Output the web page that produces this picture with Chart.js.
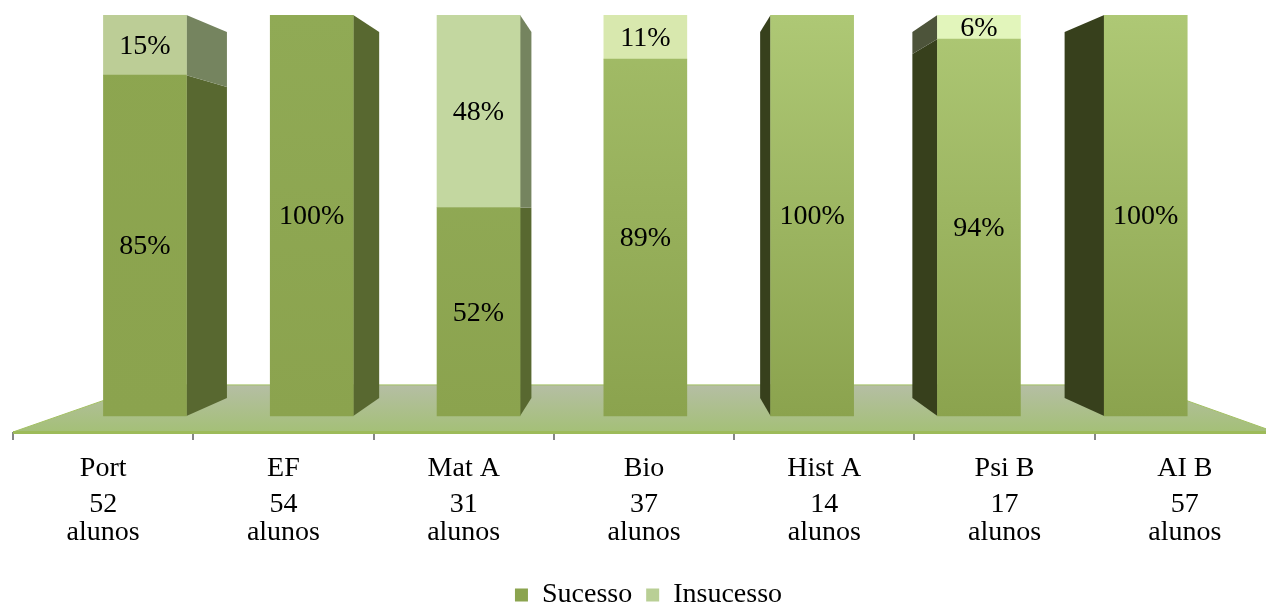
<!DOCTYPE html>
<html>
<head>
<meta charset="utf-8">
<title>Sucesso por disciplina</title>
<script src="https://cdn.jsdelivr.net/npm/chart.js@4"></script>
<style>
  html, body { margin: 0; padding: 0; background: #fff; overflow: hidden; }
  #wrap { width: 1297px; height: 603px; }
</style>
</head>
<body>
<div id="wrap"><canvas id="myChart" width="1297" height="603"></canvas></div>
<script>
const subjects = ["Port", "EF", "Mat A", "Bio", "Hist A", "Psi B", "AI B"];
const students = [["52", "alunos"], ["54", "alunos"], ["31", "alunos"], ["37", "alunos"], ["14", "alunos"], ["17", "alunos"], ["57", "alunos"]];
const sucesso = [85, 100, 52, 89, 100, 94, 100];
const insucesso = [15, 0, 48, 11, 0, 6, 0];

const FONT = "'Liberation Serif', serif";
const SIZE = 28;

// colour at the top of each column, all columns end in the same dark green
const sucessoTop = ["#8da650", "#90aa55", "#93ad59", "#a3bd68", "#aec875", "#aec875", "#aec875"];
const sucessoBottom = "#8ba34e";
const insucessoColor = ["#bccd96", "#bccd96", "#c3d7a0", "#d8e8ae", "#d8e8ae", "#e2f5bb", "#e2f5bb"];
const sideRight = "#586830";
const sideLeft = "#37401c";
const sideRightLight = "#75845f";
const sideLeftLight = "#4d543a";

// perspective of the fake 3d box
const BACK_SCALE = 0.9127;
const FLOOR_SCALE = 0.788;

function vanish(chart) {
  return {
    x: chart.scales.xBars.getPixelForValue(3.03),
    y: chart.scales.y.getPixelForValue(51.4),
  };
}

function sucessoFill(c) {
  const area = c.chart.chartArea;
  if (!area || c.dataIndex === undefined) return sucessoBottom;
  const y = c.chart.scales.y;
  const grad = c.chart.ctx.createLinearGradient(0, y.getPixelForValue(100), 0, y.getPixelForValue(0));
  grad.addColorStop(0, sucessoTop[c.dataIndex]);
  grad.addColorStop(1, sucessoBottom);
  return grad;
}

const box3d = {
  id: "box3d",
  beforeDatasetsDraw(chart) {
    const ctx = chart.ctx;
    const area = chart.chartArea;
    const v = vanish(chart);

    // floor
    const back = (p) => v.x + (p - v.x) * FLOOR_SCALE;
    const backY = v.y + (area.bottom - v.y) * FLOOR_SCALE;
    const grad = ctx.createLinearGradient(0, backY, 0, area.bottom);
    grad.addColorStop(0, "#b5bea4");
    grad.addColorStop(1, "#a4c077");
    ctx.save();
    ctx.beginPath();
    ctx.moveTo(area.left, area.bottom);
    ctx.lineTo(back(area.left), backY);
    ctx.lineTo(back(area.right), backY);
    ctx.lineTo(area.right, area.bottom);
    ctx.closePath();
    ctx.fillStyle = grad;
    ctx.fill();
    ctx.strokeStyle = "#a3c063";
    ctx.lineWidth = 1;
    ctx.stroke();
    ctx.fillStyle = "#9dbb5a";
    ctx.fillRect(area.left, area.bottom - 1, area.width, 3);

    // side faces, dark part first and the light part over it
    chart.data.datasets.forEach((ds, d) => {
      chart.getDatasetMeta(d).data.forEach((bar) => {
        const { x, y, base, width } = bar.getProps(["x", "y", "base", "width"], true);
        if (Math.abs(y - base) < 0.5) return;
        const left = x - width / 2;
        const right = x + width / 2;
        let edge, colors;
        if (right < v.x) {
          edge = right;
          colors = [sideRight, sideRightLight];
        } else if (left > v.x) {
          edge = left;
          colors = [sideLeft, sideLeftLight];
        } else {
          return;
        }
        const bx = v.x + (edge - v.x) * BACK_SCALE;
        const by = (p) => v.y + (p - v.y) * BACK_SCALE;
        ctx.beginPath();
        ctx.moveTo(edge, y);
        ctx.lineTo(bx, by(y));
        ctx.lineTo(bx, by(base));
        ctx.lineTo(edge, base);
        ctx.closePath();
        ctx.fillStyle = colors[d];
        ctx.fill();
      });
    });
    ctx.restore();
  },
  afterDatasetsDraw(chart) {
    // percent labels in the middle of each segment
    const ctx = chart.ctx;
    ctx.save();
    ctx.font = SIZE + "px " + FONT;
    ctx.fillStyle = "#000";
    ctx.textAlign = "center";
    ctx.textBaseline = "middle";
    chart.data.datasets.forEach((ds, d) => {
      chart.getDatasetMeta(d).data.forEach((bar, i) => {
        const value = ds.data[i].y;
        if (!value) return;
        const { x, y, base } = bar.getProps(["x", "y", "base"], true);
        ctx.fillText(value + "%", x, (y + base) / 2 + 1.5);
      });
    });
    ctx.restore();
  },
  afterLayout(chart) {
    // legend sits lower and a bit right of where the layout leaves it
    chart.legend.left += 4.5;
    chart.legend.right += 4.5;
    chart.legend.top += 16;
    chart.legend.bottom += 16;
  },
};

const toPoints = (values) => values.map((v, i) => ({ x: i, y: v }));

const myChart = new Chart(document.getElementById("myChart").getContext("2d"), {
  type: "bar",
  plugins: [box3d],
  data: {
    labels: subjects,
    datasets: [
      {
        label: "Sucesso",
        data: toPoints(sucesso),
        xAxisID: "xBars",
        backgroundColor: sucessoFill,
        barThickness: 83,
      },
      {
        label: "Insucesso",
        data: toPoints(insucesso),
        xAxisID: "xBars",
        backgroundColor: (c) => insucessoColor[c.dataIndex] || insucessoColor[0],
        barThickness: 83,
      },
    ],
  },
  options: {
    responsive: false,
    animation: false,
    layout: { padding: { left: 13, right: 22, top: 15, bottom: 0 } },
    plugins: {
      tooltip: { enabled: false },
      legend: {
        position: "bottom",
        labels: {
          boxWidth: 13,
          boxHeight: 13,
          padding: 14,
          color: "#000",
          font: { family: FONT, size: SIZE },
          generateLabels: () => [
            { text: "Sucesso", fillStyle: "#8ba44f", strokeStyle: "#8ba44f", lineWidth: 0, datasetIndex: 0 },
            { text: "Insucesso", fillStyle: "#b9cf95", strokeStyle: "#b9cf95", lineWidth: 0, datasetIndex: 1 },
          ],
        },
      },
    },
    scales: {
      y: {
        display: false,
        stacked: true,
        min: -4,
        max: 100,
      },
      // the bars sit closer together than the axis categories
      xBars: {
        type: "linear",
        display: false,
        stacked: true,
        offset: false,
        min: -0.791,
        max: 6.775,
      },
      x: {
        type: "category",
        position: "bottom",
        labels: subjects,
        offset: true,
        border: { display: false },
        grid: { display: true, drawOnChartArea: false, offset: true, color: "#868686", lineWidth: 2, tickLength: 8 },
        ticks: {
          autoSkip: false,
          maxRotation: 0,
          padding: 12,
          color: "#000",
          font: { family: FONT, size: SIZE },
        },
        afterFit(scale) { scale.height = 59; },
      },
      xStudents: {
        type: "category",
        position: "bottom",
        labels: students,
        offset: true,
        border: { display: false },
        grid: { display: false, drawTicks: false },
        ticks: {
          autoSkip: false,
          maxRotation: 0,
          padding: 0,
          color: "#000",
          font: { family: FONT, size: SIZE, lineHeight: 1 },
        },
        afterFit(scale) { scale.height = 60; },
      },
    },
  },
});
</script>
</body>
</html>
